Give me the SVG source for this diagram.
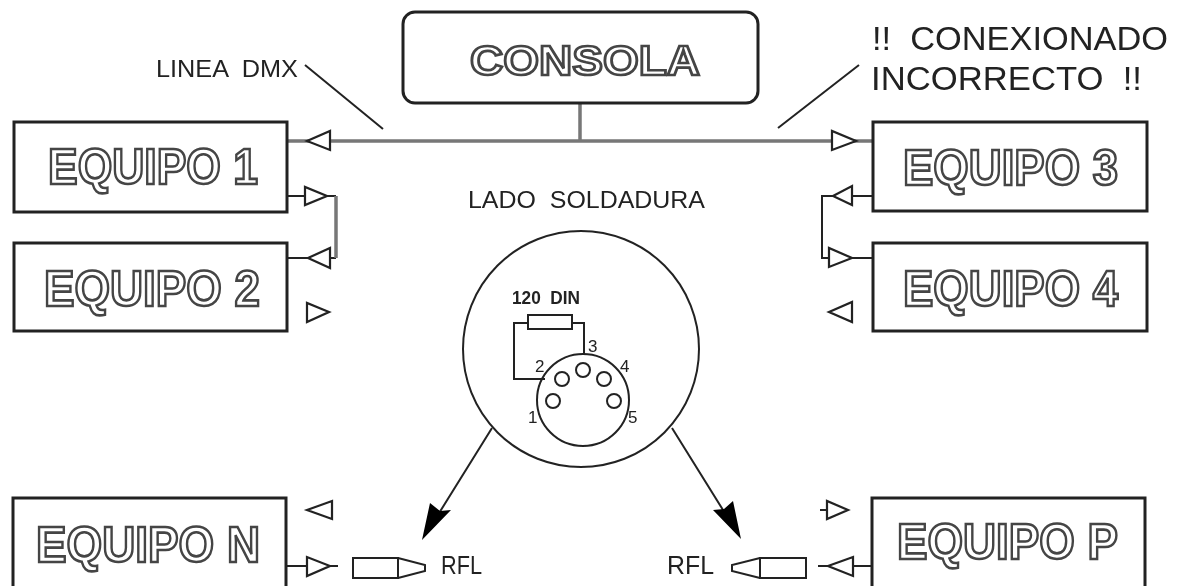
<svg xmlns="http://www.w3.org/2000/svg" width="1177" height="586" viewBox="0 0 1177 586">
<defs><filter id="soft" filterUnits="userSpaceOnUse" x="0" y="0" width="1177" height="586"><feGaussianBlur stdDeviation="0.6"/></filter></defs>
<style>
.box{fill:#fff;stroke:#222;stroke-width:3}
.big{font-family:"Liberation Sans",Arial,sans-serif;font-weight:bold;font-size:50px;fill:#fff;stroke:#444;stroke-width:2.6}
.lbl{font-family:"Liberation Sans",Arial,sans-serif;fill:#222}
.w{fill:none;stroke:#222;stroke-width:2}
.g{fill:none;stroke:#777;stroke-width:3.5}
.t{fill:#fff;stroke:#222;stroke-width:2.2}
.a{fill:#000;stroke:none}
</style>
<rect width="1177" height="586" fill="#fff"/>
<g filter="url(#soft)">
<g id="connectors">
<path class="g" d="M287 141H873M580 103V141"/>
<path class="w" d="M287 196H336M287 258H336"/>
<path class="g" d="M336 196V258"/>
<path class="w" d="M873 196H822V258H873"/>
<path class="w" d="M287 566H338M818 566H872M820 510H828"/>
<path class="w" d="M305 65L383 129M778 128L859 65"/>
<path class="w" d="M492 428L436 518M672 428L728 518"/>
<path class="a" d="M422 540L430 503L440 511L451 510Z"/>
<path class="a" d="M741 539L713 510L724 509L733 501Z"/>
<polygon class="t" points="307,141 330,131 330,150"/>
<polygon class="t" points="305,187 305,205 327,196"/>
<polygon class="t" points="308,258 330,248 330,268"/>
<polygon class="t" points="307,303 307,322 329,312"/>
<polygon class="t" points="832,131 832,150 856,141"/>
<polygon class="t" points="833,196 852,186 852,205"/>
<polygon class="t" points="829,248 829,267 852,258"/>
<polygon class="t" points="829,312 852,302 852,322"/>
<polygon class="t" points="307,510 332,501 332,519"/>
<polygon class="t" points="307,557 307,576 330,566"/>
<polygon class="t" points="827,501 827,519 848,510"/>
<polygon class="t" points="828,566 853,557 853,576"/>
</g>
<g id="consola"><rect class="box" x="403" y="12" width="355" height="91" rx="12"/><text class="big" style="font-size:42px" x="470" y="75" textLength="230" lengthAdjust="spacingAndGlyphs">CONSOLA</text></g>
<g id="equipo1"><rect class="box" x="14" y="122" width="273" height="90"/><text class="big" x="48" y="184" textLength="210" lengthAdjust="spacingAndGlyphs">EQUIPO 1</text></g>
<g id="equipo2"><rect class="box" x="14" y="243" width="273" height="88"/><text class="big" x="44" y="306" textLength="216" lengthAdjust="spacingAndGlyphs">EQUIPO 2</text></g>
<g id="equipo3"><rect class="box" x="873" y="122" width="274" height="89"/><text class="big" x="903" y="185" textLength="215" lengthAdjust="spacingAndGlyphs">EQUIPO 3</text></g>
<g id="equipo4"><rect class="box" x="873" y="243" width="274" height="88"/><text class="big" x="903" y="306" textLength="215" lengthAdjust="spacingAndGlyphs">EQUIPO 4</text></g>
<g id="equipoN"><rect class="box" x="13" y="498" width="273" height="90"/><text class="big" x="36" y="562" textLength="224" lengthAdjust="spacingAndGlyphs">EQUIPO N</text></g>
<g id="equipoP"><rect class="box" x="872" y="498" width="273" height="90"/><text class="big" x="897" y="559" textLength="221" lengthAdjust="spacingAndGlyphs">EQUIPO P</text></g>
<g id="labels">
<text class="lbl" x="872" y="50" font-size="34" textLength="296" lengthAdjust="spacingAndGlyphs" xml:space="preserve">!!  CONEXIONADO</text>
<text class="lbl" x="871" y="90" font-size="34" textLength="271" lengthAdjust="spacingAndGlyphs" xml:space="preserve">INCORRECTO  !!</text>
<text class="lbl" x="156" y="77" font-size="24" textLength="142" lengthAdjust="spacingAndGlyphs" xml:space="preserve">LINEA  DMX</text>
<text class="lbl" x="468" y="208" font-size="24" textLength="237" lengthAdjust="spacingAndGlyphs" xml:space="preserve">LADO  SOLDADURA</text>
</g>
<g id="conector-din">
<circle class="w" cx="581" cy="349" r="118"/>
<circle class="w" cx="583" cy="400" r="46"/>
<rect class="w" x="528" y="315" width="44" height="14"/>
<path class="w" d="M528 323H514V379H545M572 323H584V354"/>
<circle class="w" cx="562" cy="379" r="7"/><circle class="w" cx="583" cy="370" r="7"/><circle class="w" cx="604" cy="379" r="7"/><circle class="w" cx="553" cy="401" r="7"/><circle class="w" cx="614" cy="401" r="7"/>
<text class="lbl" x="512" y="304" font-size="19" font-weight="bold" textLength="68" lengthAdjust="spacingAndGlyphs" xml:space="preserve">120  DIN</text>
<text class="lbl" x="588" y="352" font-size="17">3</text>
<text class="lbl" x="535" y="372" font-size="17">2</text>
<text class="lbl" x="620" y="372" font-size="17">4</text>
<text class="lbl" x="528" y="423" font-size="17">1</text>
<text class="lbl" x="628" y="423" font-size="17">5</text>
</g>
<g id="rfl-izq">
<rect class="w" x="353" y="558" width="45" height="20"/>
<path class="w" d="M398 558L425 565V571L398 578"/>
<text class="lbl" x="441" y="574" font-size="26" textLength="41" lengthAdjust="spacingAndGlyphs">RFL</text>
</g>
<g id="rfl-der">
<rect class="w" x="760" y="558" width="46" height="20"/>
<path class="w" d="M760 558L732 565V571L760 578"/>
<text class="lbl" x="667" y="574" font-size="26" textLength="47" lengthAdjust="spacingAndGlyphs">RFL</text>
</g>
</g>
</svg>
